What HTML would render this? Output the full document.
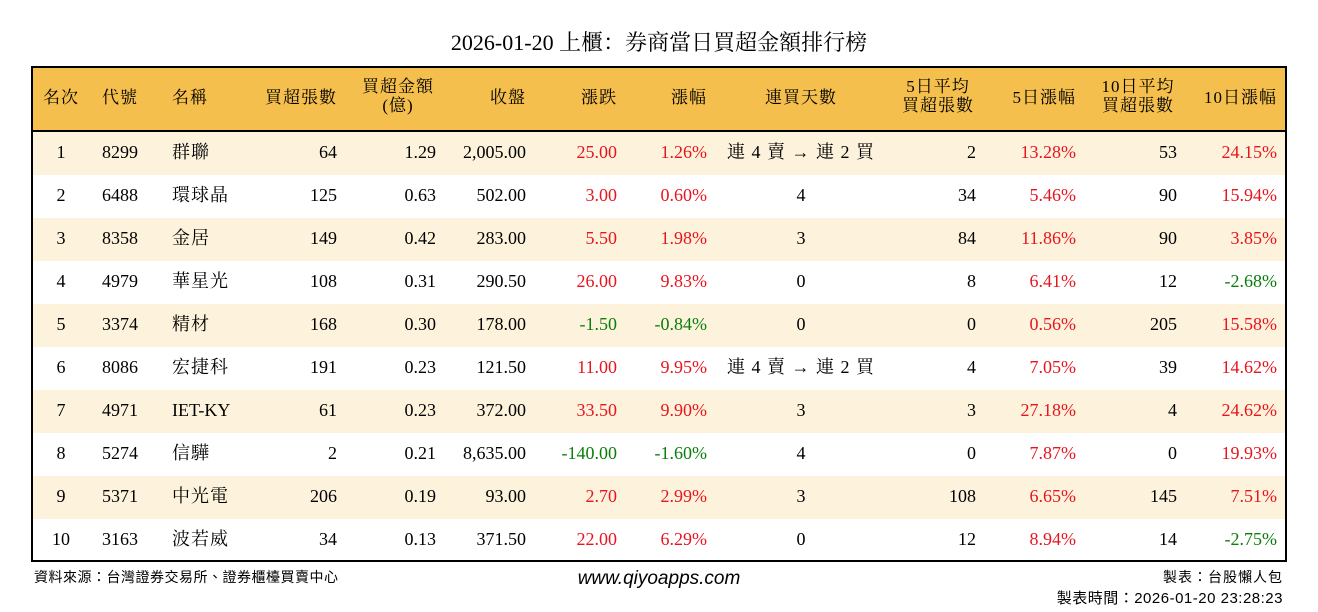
<!DOCTYPE html>
<html><head><meta charset="utf-8"><style>
body{margin:0;width:1318px;height:612px;background:#fff;position:relative;font-family:"Liberation Serif","Noto Serif CJK SC","Noto Sans CJK TC",serif;color:#000;overflow:hidden}
.t{position:absolute;white-space:nowrap;font-size:18px;line-height:20px}
.box{position:absolute;left:31px;top:66px;width:1252px;height:492px;border:2px solid #000}
.hdr{position:absolute;left:0;top:0;width:1252px;height:62px;background:#f5bf4d;border-bottom:2px solid #000}
.row{position:absolute;left:0;width:1252px;height:43px}
.r{color:#e8141e}.g{color:#0a7d0a}
.h{font-family:"Liberation Serif","Noto Serif CJK SC",serif;font-size:17px;letter-spacing:1px}
.cj{font-family:"Liberation Serif","Noto Serif CJK SC",serif;letter-spacing:1px}
.ft{font-family:"Liberation Sans","Noto Sans CJK TC",sans-serif;font-size:14px}
</style></head><body>
<div class="t" style="left:0;width:1318px;text-align:center;top:31px;font-size:22px;line-height:24px">2026-01-20 上櫃：券商當日買超金額排行榜</div>
<div class="box">
<div class="hdr"></div>
<div class="row" style="top:64px;background:#fdf3dc"></div>
<div class="row" style="top:150px;background:#fdf3dc"></div>
<div class="row" style="top:236px;background:#fdf3dc"></div>
<div class="row" style="top:322px;background:#fdf3dc"></div>
<div class="row" style="top:408px;background:#fdf3dc"></div>
</div>
<div id="c"></div>
<script>
const H=[["名次",61,"c"],["代號",102,"l"],["名稱",172,"l"],["買超張數",337,"r"],["收盤",526,"r"],["漲跌",617,"r"],["漲幅",707,"r"],["連買天數",801,"c"],["5日漲幅",1076,"r"],["10日漲幅",1277,"r"]];
const H2=[["買超金額",398,"(億)"],["5日平均",938,"買超張數"],["10日平均",1138,"買超張數"]];
const D=[
["1","8299","群聯","64","1.29","2,005.00","25.00","1.26%","連 4 賣 → 連 2 買","2","13.28%","53","24.15%"],
["2","6488","環球晶","125","0.63","502.00","3.00","0.60%","4","34","5.46%","90","15.94%"],
["3","8358","金居","149","0.42","283.00","5.50","1.98%","3","84","11.86%","90","3.85%"],
["4","4979","華星光","108","0.31","290.50","26.00","9.83%","0","8","6.41%","12","-2.68%"],
["5","3374","精材","168","0.30","178.00","-1.50","-0.84%","0","0","0.56%","205","15.58%"],
["6","8086","宏捷科","191","0.23","121.50","11.00","9.95%","連 4 賣 → 連 2 買","4","7.05%","39","14.62%"],
["7","4971","IET-KY","61","0.23","372.00","33.50","9.90%","3","3","27.18%","4","24.62%"],
["8","5274","信驊","2","0.21","8,635.00","-140.00","-1.60%","4","0","7.87%","0","19.93%"],
["9","5371","中光電","206","0.19","93.00","2.70","2.99%","3","108","6.65%","145","7.51%"],
["10","3163","波若威","34","0.13","371.50","22.00","6.29%","0","12","8.94%","14","-2.75%"]];
const X=[[61,"c"],[102,"l"],[172,"l"],[337,"r"],[436,"r"],[526,"r"],[617,"r"],[707,"r"],[801,"c"],[976,"r"],[1076,"r"],[1177,"r"],[1277,"r"]];
let s="";
function el(txt,x,a,y,cls,st){let p=a=="l"?`left:${x}px`:a=="r"?`right:${1318-x}px`:`left:${x-150}px;width:300px;text-align:center`;s+=`<div class="t ${cls||""}" style="${p};top:${y}px;${st||""}">${txt}</div>`;}
H.forEach(h=>el(h[0],h[1],h[2],88,"h"));
H2.forEach(h=>{el(h[0],h[1],"c",78,"h","line-height:18px");el(h[2],h[1],"c",97,"h","line-height:18px");});
D.forEach((r,i)=>{const y=142+i*43;r.forEach((v,j)=>{let cls="";if((j==2&&!/[A-Z]/.test(v)))cls="cj";if([6,7,10,12].includes(j))cls=v.startsWith("-")?"g":"r";let a=X[j][1],x=X[j][0],st="";if(j==8&&v.length>3){a="l";x=727;cls="cj";st="letter-spacing:1px;word-spacing:0px";}el(v,x,a,y,cls,st);});});
el("資料來源：台灣證券交易所、證券櫃檯買賣中心",34,"l",567,"ft","letter-spacing:0.5px");
el("www.qiyoapps.com",659,"c",569,"","font-family:'Liberation Sans',sans-serif;font-style:italic;font-size:19px");
el("製表：台股懶人包",1283,"r",567,"ft","letter-spacing:1px");
el("製表時間：2026-01-20 23:28:23",1283,"r",589,"ft","letter-spacing:0.5px;font-size:15px");
document.getElementById("c").innerHTML=s;
</script>
</body></html>
